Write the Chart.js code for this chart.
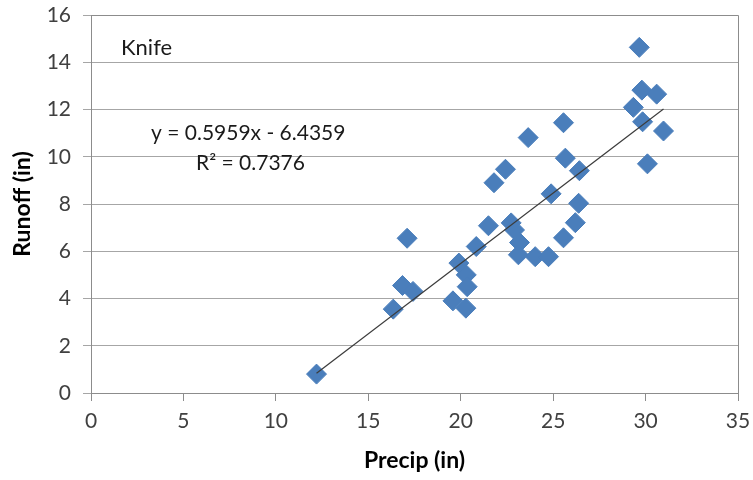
<!DOCTYPE html>
<html>
<head>
<meta charset="utf-8">
<style>
  html, body { margin: 0; padding: 0; background: #fff; }
  #wrap { width: 753px; height: 480px; position: relative; }
</style>
<script src="https://cdn.jsdelivr.net/npm/chart.js@4.4.0/dist/chart.umd.min.js"></script>
</head>
<body>
<div id="wrap"><canvas id="chart" width="753" height="480"></canvas></div>
<script>
// Knife: precipitation vs runoff (inches)
const precip = [12.2, 16.35, 16.85, 17.1, 17.42, 19.58, 19.9, 20.3, 20.35, 20.28,
                20.84, 21.5, 21.8, 22.42, 22.73, 22.91, 23.18, 23.12, 24.03, 24.75,
                23.65, 24.89, 25.56, 25.56, 25.66, 26.2, 26.38, 26.42, 29.34, 29.66,
                29.8, 29.84, 30.1, 30.6, 30.97];
const runoff = [0.8, 3.55, 4.55, 6.55, 4.3, 3.9, 5.5, 5.0, 4.5, 3.59,
                6.2, 7.08, 8.9, 9.47, 7.2, 6.9, 6.37, 5.85, 5.77, 5.77,
                10.81, 8.43, 6.57, 11.44, 9.94, 7.21, 8.03, 9.41, 12.09, 14.63,
                12.82, 11.48, 9.7, 12.65, 11.09];
const slope = 0.5959;
const intercept = -6.4359;
const rSquared = 0.7376;
const xTicks = [0, 5, 10, 15, 20, 25, 30, 35];
const yTicks = [0, 2, 4, 6, 8, 10, 12, 14, 16];

const FONT = 'Lato, "Open Sans", sans-serif';

const points = precip.map((p, i) => ({ x: p, y: runoff[i] }));
const xMin = Math.min(...precip);
const xMax = Math.max(...precip);
const trend = [xMin, xMax].map(x => ({ x: x, y: slope * x + intercept }));

// texto dentro da area do grafico
const notes = {
    id: 'notes',
    afterDatasetsDraw(chart) {
        const { ctx } = chart;
        ctx.save();
        ctx.fillStyle = '#1a1a1a';
        ctx.textBaseline = 'middle';
        ctx.textAlign = 'left';
        ctx.font = '22px ' + FONT;
        ctx.fillText('Knife', 121, 48);
        ctx.font = '21px ' + FONT;
        ctx.fillText('y = ' + slope.toFixed(4) + 'x - ' + Math.abs(intercept).toFixed(4), 151, 133);
        ctx.fillText('R² = ' + rSquared.toFixed(4), 196, 163);
        ctx.restore();
    }
};

// moldura da area de plotagem
const frame = {
    id: 'frame',
    beforeDatasetsDraw(chart) {
        const { ctx, chartArea: a } = chart;
        ctx.save();
        ctx.strokeStyle = '#8c8c8c';
        ctx.lineWidth = 1;
        ctx.beginPath();
        ctx.moveTo(a.left, a.top + 0.5);
        ctx.lineTo(a.right + 0.5, a.top + 0.5);
        ctx.lineTo(a.right + 0.5, a.bottom);
        ctx.stroke();
        ctx.restore();
    }
};

new Chart(document.getElementById('chart'), {
    type: 'scatter',
    data: {
        datasets: [
            {
                label: 'Knife',
                data: points,
                pointStyle: 'rectRot',
                pointRadius: 10,
                pointBackgroundColor: '#4a7ebb',
                pointBorderColor: '#4a7ebb',
                pointBorderWidth: 1,
                order: 2
            },
            {
                type: 'line',
                label: 'Linear',
                data: trend,
                borderColor: '#3c3c3c',
                borderWidth: 1.2,
                pointRadius: 0,
                fill: false,
                order: 1
            }
        ]
    },
    options: {
        responsive: false,
        animation: false,
        devicePixelRatio: 1,
        layout: { padding: { top: 15, right: 15, left: 0, bottom: 0 } },
        plugins: {
            legend: { display: false },
            tooltip: { enabled: false }
        },
        scales: {
            x: {
                type: 'linear',
                min: 0,
                max: 35,
                afterBuildTicks: axis => { axis.ticks = xTicks.map(v => ({ value: v })); },
                afterFit: axis => { axis.height = 87; axis.paddingLeft = 0; axis.paddingRight = 0; },
                grid: { drawOnChartArea: false, color: '#8c8c8c', tickLength: 8 },
                border: { color: '#8c8c8c' },
                ticks: { color: '#404040', font: { family: FONT, size: 21 }, padding: 8, maxRotation: 0 },
                title: { display: true, text: 'Precip (in)', color: '#000', font: { family: FONT, size: 23, weight: 'bold' }, padding: { top: 4, bottom: 6 } }
            },
            y: {
                type: 'linear',
                min: 0,
                max: 16,
                afterBuildTicks: axis => { axis.ticks = yTicks.map(v => ({ value: v })); },
                afterFit: axis => { axis.width = 91; axis.paddingTop = 0; axis.paddingBottom = 0; },
                grid: { color: '#a6a6a6', tickLength: 8 },
                border: { color: '#8c8c8c' },
                ticks: { color: '#404040', font: { family: FONT, size: 21 }, padding: 12 },
                title: { display: true, text: 'Runoff (in)', color: '#000', font: { family: FONT, size: 23, weight: 'bold' }, padding: { top: 9, bottom: 0 } }
            }
        }
    },
    plugins: [frame, notes]
});
</script>
</body>
</html>
